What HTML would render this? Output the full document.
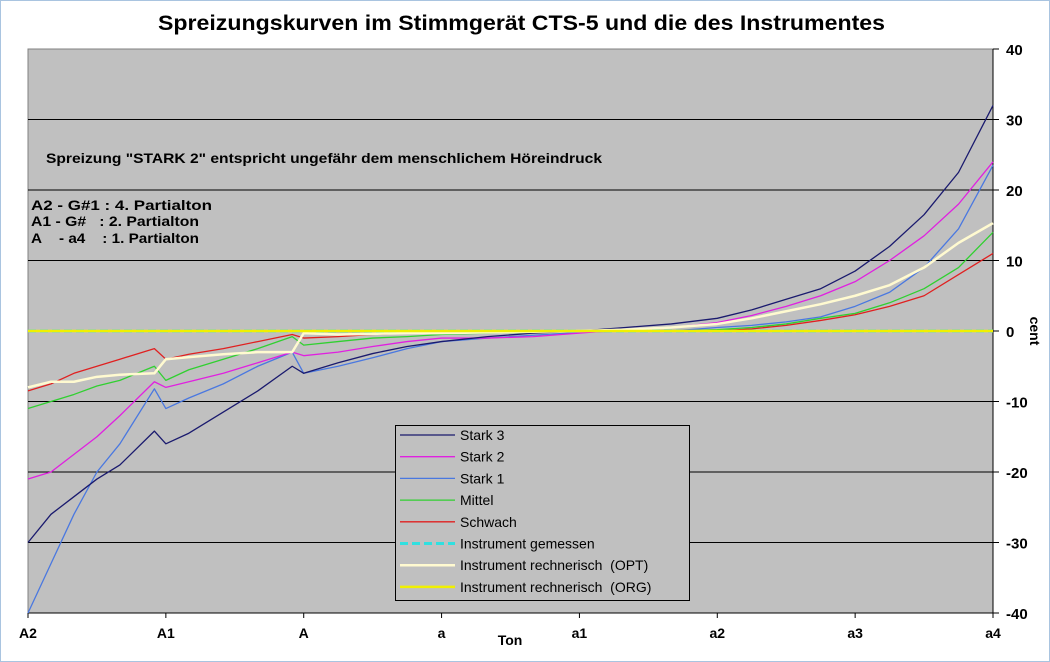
<!DOCTYPE html>
<html><head><meta charset="utf-8"><style>
body{margin:0;background:#fff;}
svg{display:block;font-family:"Liberation Sans",Arial,sans-serif;}
</style></head><body>
<svg id="chart" width="1050" height="662" viewBox="0 0 1050 662">
<rect x="0.5" y="0.5" width="1049" height="661" fill="#fff" stroke="#a9c4e0"/>
<text x="158" y="30" font-size="21" font-weight="bold" textLength="727" lengthAdjust="spacingAndGlyphs">Spreizungskurven im Stimmgerät CTS-5 und die des Instrumentes</text>
<rect x="28" y="49" width="965" height="564" fill="#c0c0c0" stroke="#808080"/>
<g id="grid"></g>
<g id="axes"></g>
<g id="series"></g>
<text x="46" y="163" font-size="14" font-weight="bold" textLength="556" lengthAdjust="spacingAndGlyphs">Spreizung "STARK 2" entspricht ungefähr dem menschlichem Höreindruck</text>
<text x="31" y="210" font-size="14" font-weight="bold" textLength="181" lengthAdjust="spacingAndGlyphs">A2 - G#1 : 4. Partialton</text>
<text x="31" y="226" font-size="14" font-weight="bold" textLength="168" lengthAdjust="spacingAndGlyphs">A1 - G#&#160;&#160; : 2. Partialton</text>
<text x="31" y="243" font-size="14" font-weight="bold" textLength="168" lengthAdjust="spacingAndGlyphs">A&#160;&#160;&#160; - a4&#160;&#160;&#160; : 1. Partialton</text>
<text x="1030" y="331" font-size="14" font-weight="bold" text-anchor="middle" transform="rotate(90 1030 331)">cent</text>
<text x="510" y="645" font-size="14" font-weight="bold" text-anchor="middle">Ton</text>
<g id="legend"></g>
</svg>
<script>
const idx = [0,2,4,6,8,11,12,14,17,20,23,24,27,30,33,36,40,44,48,52,56,60,63,66,69,72,75,78,81,84];
const stark3 = [-30,-26,-23.5,-21,-19,-14.2,-16,-14.5,-11.5,-8.5,-5,-6,-4.5,-3.2,-2.2,-1.5,-0.8,-0.3,0,0.5,1,1.8,3,4.5,6,8.5,12,16.5,22.5,32];
const stark2 = [-21,-20,-17.5,-15,-12,-7.2,-8,-7.2,-6,-4.5,-3,-3.5,-3,-2.2,-1.5,-1,-1,-0.8,-0.3,0.2,0.5,1.2,2.2,3.5,5,7,10,13.5,18,24];
const stark1 = [-40,-33,-26,-20,-16,-8.2,-11,-9.5,-7.5,-5,-3,-6,-5,-3.8,-2.5,-1.5,-1,-0.6,-0.2,0,0,0.5,0.8,1.3,2,3.5,5.5,9,14.5,23.5];
const mittel = [-11,-10,-9,-7.8,-7,-5,-7,-5.5,-4,-2.5,-0.8,-2,-1.5,-1,-0.8,-0.5,-0.3,-0.2,0,0,0,0.2,0.5,1,1.8,2.5,4,6,9,14];
const schwach = [-8.5,-7.5,-6,-5,-4,-2.5,-4,-3.3,-2.5,-1.5,-0.5,-1,-0.8,-0.5,-0.3,-0.2,-0.1,0,0,0,0,0,0.3,0.8,1.5,2.3,3.5,5,8,11];
const opt = [-8,-7.2,-7.2,-6.5,-6.2,-6,-4,-3.7,-3.3,-3,-3,-0.3,-0.5,-0.4,-0.3,-0.3,-0.2,-0.1,0,0.2,0.5,1,1.8,2.8,3.8,5,6.5,9,12.5,15.3];
const gemessen = [0,0];
const org = [0,0];
const flatIdx = [0,84];
const yTicks = [40,30,20,10,0,-10,-20,-30,-40];
const xLabels = ["A2","A1","A","a","a1","a2","a3","a4"];

const NS="http://www.w3.org/2000/svg";
const X0=28,X1=993,Y0=49,Y1=613;
const xs=i=>X0+(X1-X0)*i/84;
const ys=v=>Y0+(Y1-Y0)*(40-v)/80;
function mk(t,a,p){const e=document.createElementNS(NS,t);for(const k in a)e.setAttribute(k,a[k]);p.appendChild(e);return e;}
const grid=document.getElementById('grid'),axes=document.getElementById('axes'),ser=document.getElementById('series'),leg=document.getElementById('legend');
yTicks.forEach(v=>{
  if(v<40&&v>-40&&v!==0){const l=mk('line',{x1:X0,x2:X1,y1:ys(v),y2:ys(v),stroke:'#000','stroke-width':1},grid);
  
  }
  const t=mk('line',{x1:X1,x2:X1+6,y1:ys(v),y2:ys(v),stroke:'#000'},axes);
  
  
  const tx=mk('text',{x:1006,y:ys(v)+6,'font-size':15,'font-weight':'bold'},axes);
  tx.textContent=v;
  
  
});
const ya=mk('line',{x1:X1,x2:X1,y1:Y0,y2:Y1,stroke:'#000'},axes);


const xa=mk('line',{x1:X0,x2:X1,y1:Y1,y2:Y1,stroke:'#000'},axes);


xLabels.forEach((s,k)=>{
  const x=xs(k*12);
  const t=mk('line',{x1:x,x2:x,y1:Y1,y2:Y1+5,stroke:'#000'},axes);
  
  
  const tx=mk('text',{x:x,y:638,'font-size':14,'font-weight':'bold','text-anchor':'middle'},axes);
  tx.textContent=s;
  
  
});
const defs=[
 {n:'Stark 3',d:stark3,i:idx,c:'#1a1a6e',w:1.3},
 {n:'Stark 2',d:stark2,i:idx,c:'#e020e0',w:1.3},
 {n:'Stark 1',d:stark1,i:idx,c:'#4a78e0',w:1.3},
 {n:'Mittel',d:mittel,i:idx,c:'#30d030',w:1.3},
 {n:'Schwach',d:schwach,i:idx,c:'#e02020',w:1.3},
 {n:'Instrument gemessen',d:gemessen,i:flatIdx,c:'#30e0e0',w:3,dash:'8,4'},
 {n:'Instrument rechnerisch  (OPT)',d:opt,i:idx,c:'#fffad0',w:2.5},
 {n:'Instrument rechnerisch  (ORG)',d:org,i:flatIdx,c:'#f0f000',w:2.5}
];
[5,4,3,2,1,0,6,7].forEach(k=>{
  const s=defs[k];
  const p=mk('polyline',{points:s.d.map((v,j)=>xs(s.i[j])+','+ys(v)).join(' '),fill:'none',stroke:s.c,'stroke-width':s.w,'stroke-linejoin':'round'},ser);
  if(s.dash)p.setAttribute('stroke-dasharray',s.dash);
  
  
});
const lb=mk('rect',{x:395.5,y:425.5,width:294,height:175,fill:'#c0c0c0',stroke:'#000'},leg);


defs.forEach((s,k)=>{
  const y=435+k*21.7;
  const l=mk('line',{x1:400,x2:455,y1:y,y2:y,stroke:s.c,'stroke-width':s.dash?3:(s.w>2?2.5:1.3)},leg);
  if(s.dash)l.setAttribute('stroke-dasharray','8,4');
  
  
  const t=mk('text',{x:460,y:y+5,'font-size':14},leg);
  t.textContent=s.n;
  t.style.whiteSpace='pre';
  
  
});
</script>
</body></html>
